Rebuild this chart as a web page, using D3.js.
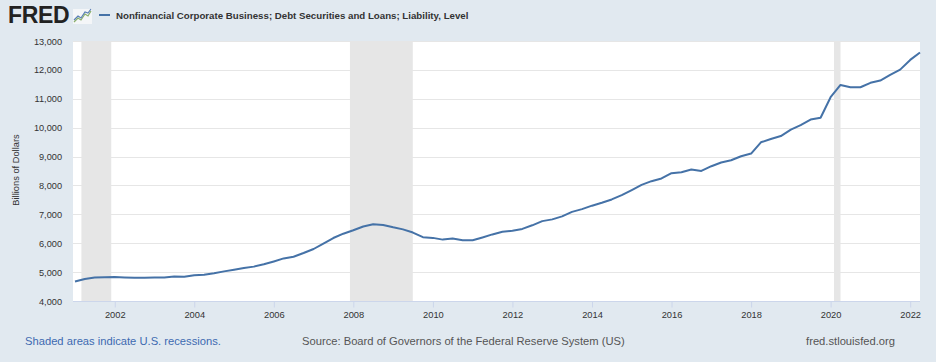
<!DOCTYPE html>
<meta charset="utf-8">
<script src="https://d3js.org/d3.v7.min.js"></script>
<style>
  body { margin: 0; background: #e1e9f0; }
  text { font-family: "Liberation Sans", Arial, sans-serif; }
</style>
<div id="chart"></div>
<script>
// quarterly observations, 2001 Q1 .. 2022 Q2 (billions of dollars)
var startYear = 2001;
var values = [
  4676, 4760, 4810, 4820, 4828, 4815, 4805, 4808,
  4810, 4812, 4845, 4838, 4895, 4905, 4960, 5025,
  5085, 5140, 5190, 5270, 5370, 5475, 5530, 5660,
  5800, 5990, 6180, 6330, 6450, 6580, 6660, 6630,
  6550, 6480, 6370, 6210, 6185, 6125, 6160, 6105,
  6103, 6200, 6305, 6395, 6430, 6495, 6620, 6765,
  6825, 6930, 7085, 7180, 7300, 7400, 7515, 7665,
  7840, 8020, 8148, 8241, 8424, 8459, 8552, 8503,
  8666, 8793, 8872, 9010, 9103, 9493, 9607, 9710,
  9931, 10090, 10280, 10345, 11055, 11480, 11400, 11400,
  11552, 11631, 11828, 12010, 12345, 12600
];
var recessions = [
  ["2001-03-01", "2001-11-30"],
  ["2007-12-01", "2009-06-30"],
  ["2020-02-01", "2020-04-01"]
];
var yTicks = [4000, 5000, 6000, 7000, 8000, 9000, 10000, 11000, 12000, 13000];
var xTickYears = [2002, 2004, 2006, 2008, 2010, 2012, 2014, 2016, 2018, 2020, 2022];

var W = 936, H = 362;
var plot = {left: 73, right: 920, top: 41, bottom: 301};

var data = values.map(function(v, i) {
  return {date: new Date(startYear + Math.floor(i / 4), (i % 4) * 3, 1), value: v};
});

var x = d3.scaleTime()
  .domain([new Date(2001, 0, 1), new Date(2022, 3, 1)])
  .range([75, plot.right]);
var y = d3.scaleLinear()
  .domain([4000, 13000])
  .range([plot.bottom, plot.top]);

var svg = d3.select("#chart").append("svg")
  .attr("width", W).attr("height", H);

svg.append("rect").attr("width", W).attr("height", H).attr("fill", "#e1e9f0");

// header: logo + legend
var logo = svg.append("g");
logo.append("text")
  .attr("x", 8).attr("y", 23)
  .attr("font-size", 23).attr("font-weight", "bold")
  .attr("fill", "#222").attr("letter-spacing", -0.3)
  .text("FRED");
logo.append("rect").attr("x", 73).attr("y", 9).attr("width", 19).attr("height", 15).attr("fill", "#f4f6f8");
logo.append("path").attr("d", "M74,22 L78,18 L81,20 L85,14 L88,16 L91,11")
  .attr("fill", "none").attr("stroke", "#8ab06a").attr("stroke-width", 1.2);
logo.append("path").attr("d", "M74,20 L78,16 L81,18 L85,12 L88,13 L91,9")
  .attr("fill", "none").attr("stroke", "#5a7fb5").attr("stroke-width", 1.2);

svg.append("line")
  .attr("x1", 99).attr("x2", 110).attr("y1", 15).attr("y2", 15)
  .attr("stroke", "#4572a7").attr("stroke-width", 2);
svg.append("text")
  .attr("x", 116).attr("y", 18.5)
  .attr("font-size", 9.7).attr("font-weight", "bold").attr("fill", "#333")
  .text("Nonfinancial Corporate Business; Debt Securities and Loans; Liability, Level");

// plot background
svg.append("rect")
  .attr("x", plot.left).attr("y", plot.top)
  .attr("width", plot.right - plot.left).attr("height", plot.bottom - plot.top)
  .attr("fill", "#fff");

// recession shading
svg.selectAll(".rec").data(recessions).enter().append("rect")
  .attr("class", "rec")
  .attr("x", function(d) { return x(new Date(d[0])); })
  .attr("width", function(d) { return x(new Date(d[1])) - x(new Date(d[0])); })
  .attr("y", plot.top).attr("height", plot.bottom - plot.top)
  .attr("fill", "#e6e6e6");

// gridlines
svg.selectAll(".grid").data(yTicks.slice(1)).enter().append("line")
  .attr("x1", plot.left).attr("x2", plot.right)
  .attr("y1", function(d) { return Math.round(y(d)) + 0.5; })
  .attr("y2", function(d) { return Math.round(y(d)) + 0.5; })
  .attr("stroke", "#e6e6e6").attr("stroke-width", 1);

// y axis labels
var fmt = d3.format(",");
svg.selectAll(".ylab").data(yTicks).enter().append("text")
  .attr("x", 62).attr("y", function(d) { return y(d) + 3.5; })
  .attr("text-anchor", "end").attr("font-size", 9.2).attr("fill", "#333")
  .text(function(d) { return fmt(d); });

svg.append("text")
  .attr("transform", "translate(19,170) rotate(-90)")
  .attr("text-anchor", "middle").attr("font-size", 9.3).attr("fill", "#333")
  .text("Billions of Dollars");

// x axis
var xAxis = d3.axisBottom(x)
  .tickValues(xTickYears.map(function(yr) { return new Date(yr, 0, 1); }))
  .tickFormat(d3.timeFormat("%Y"))
  .tickSize(6).tickSizeOuter(0);
var gx = svg.append("g")
  .attr("transform", "translate(0," + (plot.bottom + 0.5) + ")")
  .call(xAxis);
gx.select(".domain").attr("stroke", "#ccd6eb")
  .attr("d", "M" + plot.left + ",0H" + plot.right);
gx.selectAll(".tick line").attr("stroke", "#ccd6eb");
gx.selectAll(".tick text")
  .attr("font-size", 9.3).attr("fill", "#333").attr("dy", "0.71em").attr("y", 10)
  .attr("font-family", "Liberation Sans, Arial, sans-serif");

// series line
var line = d3.line()
  .x(function(d) { return x(d.date); })
  .y(function(d) { return y(d.value); });
svg.append("path").datum(data)
  .attr("d", line)
  .attr("fill", "none").attr("stroke", "#4572a7").attr("stroke-width", 2)
  .attr("stroke-linejoin", "round");

// footer
svg.append("text")
  .attr("x", 25).attr("y", 345).attr("font-size", 11.2).attr("fill", "#3d6ab0")
  .text("Shaded areas indicate U.S. recessions.");
svg.append("text")
  .attr("x", 302).attr("y", 345).attr("font-size", 11.2).attr("fill", "#555")
  .text("Source: Board of Governors of the Federal Reserve System (US)");
svg.append("text")
  .attr("x", 895).attr("y", 345).attr("text-anchor", "end").attr("font-size", 11.2).attr("fill", "#555")
  .text("fred.stlouisfed.org");
</script>
